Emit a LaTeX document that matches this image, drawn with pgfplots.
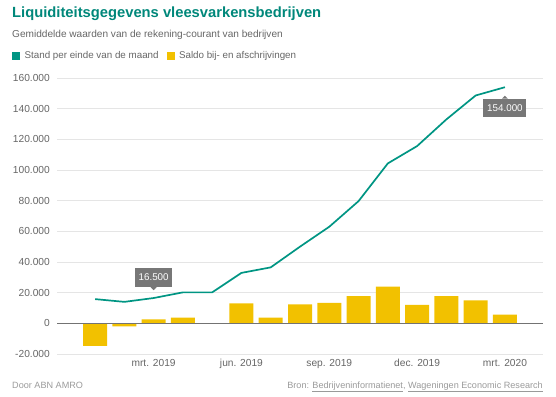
\documentclass[border=0pt]{standalone}
\usepackage{pgfplots}
\pgfplotsset{compat=1.18}
\usepackage{fontspec}
\setmainfont{Liberation Sans}
\definecolor{tealc}{HTML}{009583}
\definecolor{titlec}{HTML}{00877A}
\definecolor{yellowc}{HTML}{F2C100}
\definecolor{txtgray}{HTML}{666666}
\definecolor{footgray}{HTML}{9A9A9A}
\definecolor{boxgray}{HTML}{777777}
\begin{document}
\begin{tikzpicture}[x=1pt,y=1pt]
\path[use as bounding box] (0,0) rectangle (556,396);
% title, subtitle
\node[anchor=base west, inner sep=0pt, text=titlec, font=\fontsize{14.75}{16}\selectfont\bfseries] at (12,396-18) {Liquiditeitsgegevens vleesvarkensbedrijven};
\node[anchor=base west, inner sep=0pt, text=txtgray, font=\fontsize{10.1}{12}\selectfont] at (12,396-37.5) {Gemiddelde waarden van de rekening-courant van bedrijven};
% footer
\node[anchor=base west, inner sep=0pt, text=footgray, font=\fontsize{9.1}{11}\selectfont] at (12,396-388) {Door ABN AMRO};
\node[anchor=base east, inner sep=0pt, text=footgray, font=\fontsize{9.1}{11}\selectfont] at (543,396-388) {Bron: \underline{Bedrijveninformatienet}, \underline{Wageningen Economic Research}};
\begin{axis}[
  at={(57pt,42pt)}, anchor=south west,
  scale only axis, width=486pt, height=276pt,
  xmin=-1.3, xmax=15.3, ymin=-20000, ymax=160000,
  scaled y ticks=false,
  axis line style={draw=none},
  tick style={draw=none},
  ytick={-20000,0,20000,40000,60000,80000,100000,120000,140000,160000},
  yticklabels={-20.000,0,20.000,40.000,60.000,80.000,100.000,120.000,140.000,160.000},
  xtick={2,5,8,11,14},
  xticklabels={mrt. 2019,jun. 2019,sep. 2019,dec. 2019,mrt. 2020},
  ymajorgrids,
  grid style={color=black!10, line width=0.8pt},
  yticklabel style={anchor=east, inner sep=0pt, xshift=-7pt, text=txtgray, font=\fontsize{10.2}{12}\selectfont},
  xticklabel style={anchor=north, inner sep=0pt, yshift=-5pt, text=txtgray, font=\fontsize{10.2}{12}\selectfont},
  legend style={at={(axis description cs:-0.0926,1.08)}, anchor=west, draw=none, fill=none,
    legend columns=2, font=\fontsize{9.8}{12}\selectfont, text=txtgray, inner sep=0pt,
    nodes={inner sep=0pt},
    /tikz/every even column/.append style={column sep=8pt}},
  legend cell align=left,
  clip=false,
]
\addlegendimage{legend image code/.code={\fill[tealc] (0pt,-3.5pt) rectangle (7pt,3.5pt); \path (12pt,0pt);}}
\addlegendentry{Stand per einde van de maand}
\addlegendimage{legend image code/.code={\fill[yellowc] (0pt,-3.5pt) rectangle (7pt,3.5pt); \path (12pt,0pt);}}
\addlegendentry{Saldo bij- en afschrijvingen}
\addplot[ybar, bar width=0.82, fill=yellowc, draw=none, forget plot] coordinates {
(0,-14700) (1,-2000) (2,2600) (3,3700) (5,13000) (6,3700) (7,12300)
(8,13400) (9,17800) (10,23900) (11,12100) (12,17800) (13,14900) (14,5700)};
\draw[color=black!55, line width=1pt] (axis cs:-1.3,0) -- (axis cs:15.3,0);
\addplot[tealc, line width=1.7pt, forget plot] coordinates {
(0,15800) (1,14000) (2,16500) (3,20200) (4,20200) (5,32900) (6,36500)
(7,50000) (8,63000) (9,79700) (10,104300) (11,115600) (12,133000) (13,148600) (14,154000)};
% annotations
\node[fill=boxgray, text=white, inner sep=0pt, minimum width=37pt, minimum height=19pt, font=\fontsize{9.8}{12}\selectfont] (a1) at (axis cs:2,29900) {16.500};
\fill[boxgray] ([xshift=-3pt]a1.south) -- ([xshift=3pt]a1.south) -- ([yshift=-3pt]a1.south) -- cycle;
\node[fill=boxgray, text=white, inner sep=0pt, minimum width=43pt, minimum height=18pt, font=\fontsize{9.8}{12}\selectfont] (a2) at (axis cs:14,140500) {154.000};
\fill[boxgray] ([xshift=-3pt]a2.north) -- ([xshift=3pt]a2.north) -- ([yshift=3pt]a2.north) -- cycle;
\end{axis}
\end{tikzpicture}
\end{document}
